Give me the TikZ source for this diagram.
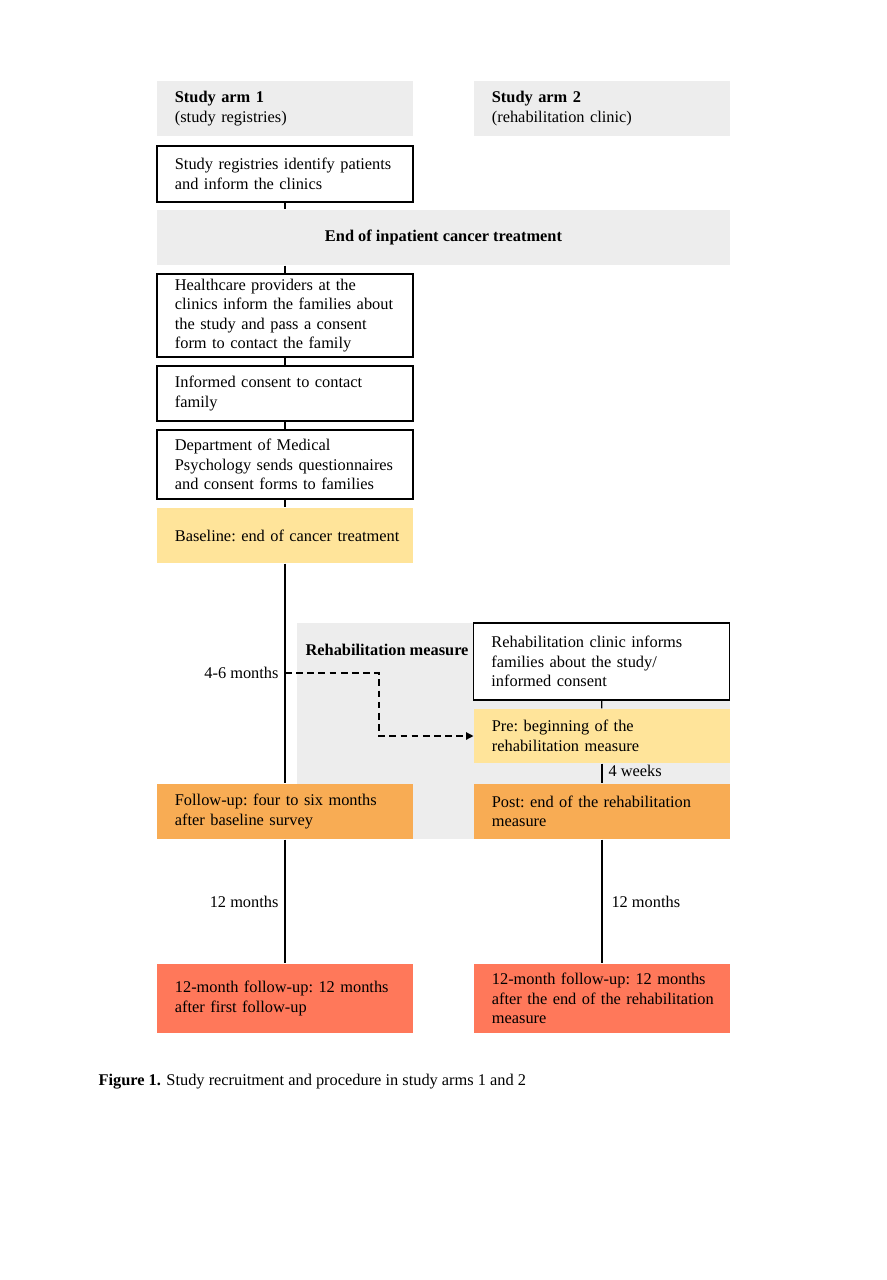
\documentclass[tikz,border=0pt]{standalone}
\usepackage{fontspec}
\setmainfont{Liberation Serif}
\usetikzlibrary{arrows.meta}
\hyphenpenalty=10000
\exhyphenpenalty=10000

\definecolor{armgrey}{RGB}{237,237,237}
\definecolor{baseyellow}{RGB}{255,228,154}
\definecolor{fuorange}{RGB}{248,172,84}
\definecolor{fured}{RGB}{255,120,90}

\tikzset{every picture/.style={line width=0.75pt}}
\tikzset{
  stage/.style={anchor=center, inner xsep=0pt, inner ysep=2pt, text width=172pt,
    align=left, font=\fontsize{11}{13.1}\selectfont\frenchspacing,
    execute at begin node={\leftskip=12pt}},
  framed/.style={stage, draw=black, line width=1pt, fill=white},
  greybox/.style={stage, fill=armgrey},
  yellowbox/.style={stage, fill=baseyellow},
  orangebox/.style={stage, fill=fuorange},
  redbox/.style={stage, fill=fured},
  banner/.style={anchor=center, inner sep=0pt, fill=armgrey, minimum width=385pt,
    font=\fontsize{11}{13.1}\selectfont\bfseries},
  link/.style={draw=black, line width=0.8pt},
  lbl/.style={inner sep=0pt, font=\fontsize{11}{13.1}\selectfont},
}

\begin{document}
\begin{tikzpicture}[x=0.672pt,y=0.672pt,yscale=-1,xscale=1]
\useasboundingbox (0,0) rectangle (886,1280);

%Shape: Rehabilitation background
\node [fill=armgrey, minimum width=291pt, minimum height=145.2pt, inner sep=0pt] (rehab) at (513.5,731) {};
% Text Node
\node [lbl, anchor=west, font=\fontsize{11}{13.1}\selectfont\bfseries] (rehabtitle) at (305,650) {Rehabilitation measure};

%Shape: study arm headers
\node [greybox, minimum height=37pt] (arm1) at (285,108.5) {\textbf{Study arm 1}\\(study registries)};
\node [greybox, minimum height=37pt] (arm2) at (602,108.5) {\textbf{Study arm 2}\\(rehabilitation clinic)};

%Shape: arm 1 steps
\node [framed, minimum height=37.6pt] (registry) at (285,174) {Study registries identify patients\\and inform the clinics};
\node [banner, minimum height=37pt] (inpatient) at (443.5,237.5) {End of inpatient cancer treatment};
\node [framed, minimum height=55.8pt] (providers) at (285,315.5) {Healthcare providers at the\\clinics inform the families about\\the study and pass a consent\\form to contact the family};
\node [framed, minimum height=37pt] (consent) at (285,393.5) {Informed consent to contact\\family};
\node [framed, minimum height=46.4pt] (psych) at (285,464.5) {Department of Medical\\Psychology sends questionnaires\\and consent forms to families};
\node [yellowbox, minimum height=37pt] (baseline) at (285,535.5) {Baseline: end of cancer treatment};
\node [orangebox, minimum height=37pt] (followup) at (285,811.5) {Follow-up: four to six months\\after baseline survey};
\node [redbox, minimum height=46.4pt] (fuarm1) at (285,998.5) {12-month follow-up: 12 months\\after first follow-up};

%Shape: arm 2 steps
\node [framed, minimum height=51.7pt] (clinic) at (601.5,661.5) {Rehabilitation clinic informs\\families about the study/\\informed consent};
\node [yellowbox, minimum height=36.3pt] (pre) at (602,736) {Pre: beginning of the\\rehabilitation measure};
\node [orangebox, minimum height=37pt] (post) at (602,811.5) {Post: end of the rehabilitation\\measure};
\node [redbox, minimum height=46.4pt] (fuarm2) at (602,998.5) {12-month follow-up: 12 months\\after the end of the rehabilitation\\measure};

%Straight Lines: arm 1
\draw [link] (registry.south) -- (registry.south |- inpatient.north);
\draw [link] (registry.south |- inpatient.south) -- (providers.north);
\draw [link] (providers) -- (consent);
\draw [link] (consent) -- (psych);
\draw [link] (psych) -- (baseline);
\coordinate (split) at (285,673);
\draw [link] (baseline) -- (followup);
\draw [link] (followup) -- (fuarm1) node [lbl, midway, left=4pt] (twelvea) {12 months};
\node [lbl, anchor=east] (months46) at ([xshift=-4pt]split) {4-6 months};

%Straight Lines: arm 2
\draw [link] (clinic) -- (pre);
\draw [link] (pre.south) -- (post.north) node [lbl, midway, right=4pt, yshift=2pt] (weeks) {4 weeks};
\draw [link] (post) -- (fuarm2) node [lbl, midway, right=6pt] (twelveb) {12 months};

%Dashed arrow
\draw [line width=0.9pt, dash pattern=on 4.5pt off 3pt, -{Triangle[length=5pt,width=5pt]}]
  (split) -- ++(94,0) |- (pre.west);

% Text Node
\node [lbl, anchor=west] (caption) at (98,1082) {\textbf{Figure 1.} Study recruitment and procedure in study arms 1 and 2};

\end{tikzpicture}
\end{document}
